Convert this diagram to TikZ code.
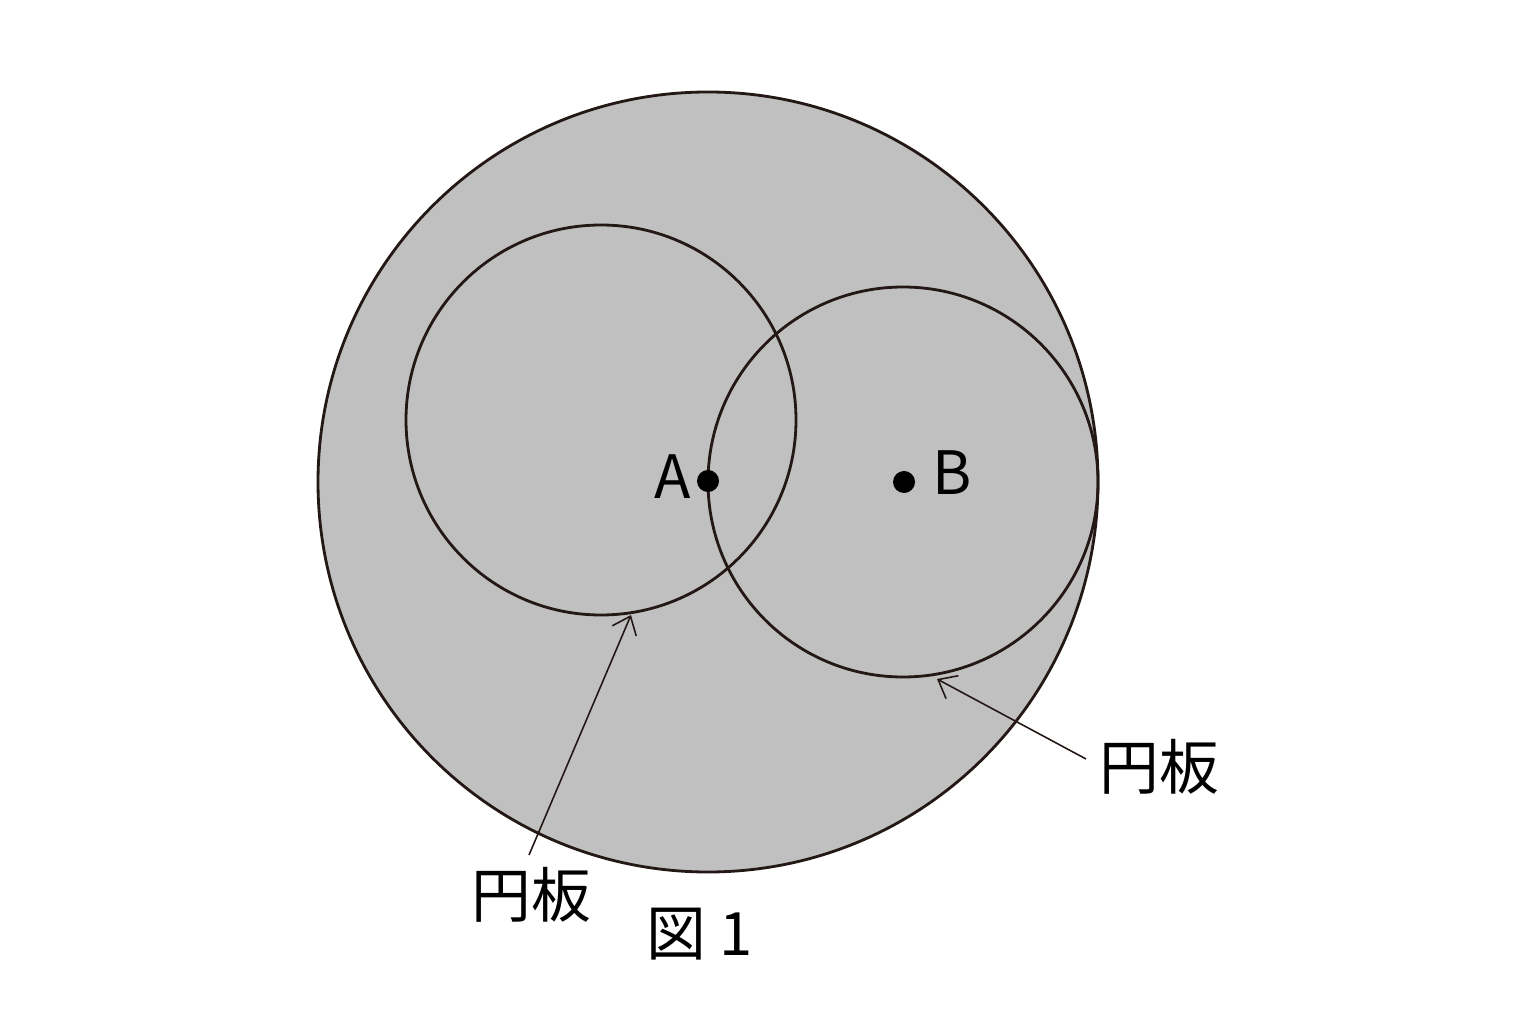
\documentclass[tikz,border=0pt]{standalone}
\usepackage{fontspec}
\setmainfont{Noto Sans CJK JP}
\usetikzlibrary{arrows.meta}
\definecolor{ink}{HTML}{231815}
\definecolor{diskgray}{HTML}{C0C0C0}
\tikzset{
  disk/.style={draw=ink, line width=0.8pt},
  pointer/.style={draw=ink, line width=0.45pt, -{Straight Barb[length=1.6mm,width=2.6mm,line width=0.45pt]}},
  lbl/.style={font=\fontsize{17}{20}\selectfont, inner sep=0pt},
  pt/.style={circle, fill=black, inner sep=0pt, minimum size=2.2mm}
}
\begin{document}
\begin{tikzpicture}[x=0.01cm,y=-0.01cm]
\useasboundingbox (0,0) rectangle (1531,1022);
\fill[white] (0,0) rectangle (1531,1022);
% big disk
\draw[disk, fill=diskgray] (708,482) circle[radius=390];
% inner circles
\draw[disk] (601,420) circle[radius=195];
\draw[disk] (903,482) circle[radius=195];
% points
\node[pt] (A) at (708,481) {};
\node[pt] (B) at (904,482) {};
\node[lbl, anchor=east] (Alab) at (692,477) {A};
\node[lbl, anchor=west] (Blab) at (932,473) {B};
% labels
\node[lbl] (L1) at (531,895) {円板};
\node[lbl] (L2) at (1159,767) {円板};
\node[lbl] (fig) at (700,934) {図 1};
% connectors
\coordinate (t1) at (529,855);
\coordinate (h1) at (631,615);
\coordinate (t2) at (1086,759);
\coordinate (h2) at (937,679);
\draw[pointer] (t1) -- (h1);
\draw[pointer] (t2) -- (h2);
\end{tikzpicture}
\end{document}
